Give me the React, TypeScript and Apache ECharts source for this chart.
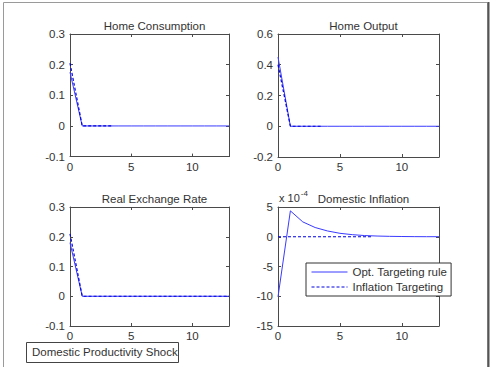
import React, { useEffect, useRef } from "react";
import * as echarts from "echarts";

// Time axes
const tFull = [0, 1, 2, 3, 4, 5, 6, 7, 8, 9, 10, 11, 12, 13];
const tShort = [0, 1, 2, 3, 3.5];
const tInflDashed = [0, 1, 2, 3, 4, 5, 6, 7, 7.6];

// Titles
const titles = ["Home Consumption", "Home Output", "Real Exchange Rate", "Domestic Inflation"];
const legendNames = ["Opt. Targeting rule", "Inflation Targeting"];

// Home Consumption
const consOpt = [0.175, 0, 0, 0, 0, 0, 0, 0, 0, 0, 0, 0, 0, 0];
const consIT = [0.205, 0, 0, 0, 0];
// Home Output
const outOpt = [0.45, 0, 0, 0, 0, 0, 0, 0, 0, 0, 0, 0, 0, 0];
const outIT = [0.4, 0, 0, 0, 0];
// Real Exchange Rate
const rerOpt = [0.18, 0, 0, 0, 0, 0, 0, 0, 0, 0, 0, 0, 0, 0];
const rerIT = [0.21, 0, 0, 0, 0, 0, 0, 0, 0, 0, 0, 0, 0, 0];
// Domestic Inflation (x 10^-4)
const inflOpt = [-10.1, 4.35, 2.5, 1.55, 0.97, 0.58, 0.35, 0.2, 0.12, 0.07, 0.04, 0.02, 0.01, 0.01];
const inflIT = [0, 0, 0, 0, 0, 0, 0, 0, 0];

// Y axis ranges
const yMins = [-0.1, -0.2, -0.1, -15];
const yMaxs = [0.3, 0.6, 0.3, 5];
const yIntervals = [0.1, 0.2, 0.1, 5];
const xMin = 0;
const xMax = 13;
const xInterval = 5;

const zip = (xs: number[], ys: number[]) => ys.map((y, i) => [xs[i], y]);

export default function App() {
  const ref = useRef<HTMLDivElement>(null);
  useEffect(() => {
    if (!ref.current) return;
    const chart = echarts.init(ref.current, undefined, { renderer: "svg" });
    const font = "Liberation Sans, Arial, sans-serif";
    const axisColor = "#4a4a4a";
    const textColor = "#333";
    const grids = [
      { left: 70, top: 34, width: 159, height: 122.6 },
      { left: 278, top: 34, width: 161, height: 123 },
      { left: 70, top: 207, width: 159, height: 119 },
      { left: 278, top: 207, width: 161, height: 119 },
    ];
    const xAxes: any[] = [];
    const yAxes: any[] = [];
    for (let i = 0; i < 4; i++) {
      xAxes.push({
        type: "value", gridIndex: i, min: xMin, max: xMax, interval: xInterval,
        position: "bottom",
        axisLine: { show: true, onZero: false, lineStyle: { color: axisColor } },
        axisTick: { show: true, inside: true, length: 3, lineStyle: { color: axisColor } },
        axisLabel: { show: true, showMaxLabel: false, color: textColor, fontFamily: font, fontSize: 11.5, margin: 4 },
        splitLine: { show: false },
      });
      yAxes.push({
        type: "value", gridIndex: i, min: yMins[i], max: yMaxs[i], interval: yIntervals[i],
        position: "left",
        axisLine: { show: true, onZero: false, lineStyle: { color: axisColor } },
        axisTick: { show: true, inside: true, length: 3, lineStyle: { color: axisColor } },
        axisLabel: { show: true, color: textColor, fontFamily: font, fontSize: 11.5, margin: 5 },
        splitLine: { show: false },
      });
    }
    for (let i = 0; i < 4; i++) {
      xAxes.push({
        type: "value", gridIndex: i, min: xMin, max: xMax, interval: xInterval,
        position: "top",
        axisLine: { show: true, onZero: false, lineStyle: { color: axisColor } },
        axisTick: { show: true, inside: true, length: 3, lineStyle: { color: axisColor } },
        axisLabel: { show: false },
        splitLine: { show: false },
      });
      yAxes.push({
        type: "value", gridIndex: i, min: yMins[i], max: yMaxs[i], interval: yIntervals[i],
        position: "right",
        axisLine: { show: true, onZero: false, lineStyle: { color: axisColor } },
        axisTick: { show: true, inside: true, length: 3, lineStyle: { color: axisColor } },
        axisLabel: { show: false },
        splitLine: { show: false },
      });
    }
    const solidStyle = { color: "#3a3aff", width: 1, type: "solid" as const };
    const dashStyle = { color: "#0000e0", width: 1.2, type: [3, 2] as any };
    const mk = (i: number, name: string, data: number[][], dashed: boolean) => ({
      type: "line", name, xAxisIndex: i, yAxisIndex: i, data,
      showSymbol: false, symbol: "none", silent: true,
      lineStyle: dashed ? dashStyle : solidStyle,
      itemStyle: { color: dashed ? dashStyle.color : solidStyle.color },
      z: dashed ? 3 : 2,
    });
    const series = [
      mk(0, legendNames[0], zip(tFull, consOpt), false),
      mk(0, legendNames[1], zip(tShort, consIT), true),
      mk(1, legendNames[0], zip(tFull, outOpt), false),
      mk(1, legendNames[1], zip(tShort, outIT), true),
      mk(2, legendNames[0], zip(tFull, rerOpt), false),
      mk(2, legendNames[1], zip(tFull, rerIT), true),
      mk(3, legendNames[0], zip(tFull, inflOpt), false),
      mk(3, legendNames[1], zip(tInflDashed, inflIT), true),
    ];
    const titleOpts = titles.map((t, i) => ({
      text: t,
      left: grids[i].left + grids[i].width / 2,
      top: grids[i].top - 19,
      textAlign: "center",
      textStyle: { fontFamily: font, fontSize: 11.5, fontWeight: "normal", color: textColor },
    }));
    chart.setOption({
      animation: false,
      backgroundColor: "#fff",
      title: titleOpts,
      grid: grids.map((g) => ({ ...g, containLabel: false })),
      xAxis: xAxes,
      yAxis: yAxes,
      series,
      legend: {
        data: legendNames,
        orient: "vertical",
        left: 306,
        top: 263,
        selectedMode: false,
        borderColor: "#333",
        borderWidth: 1,
        borderRadius: 0,
        backgroundColor: "#fff",
        padding: [3, 4, 3, 5],
        itemGap: 3,
        itemWidth: 36,
        itemHeight: 12,
        itemStyle: { opacity: 0 },
        lineStyle: { width: 1 },
        textStyle: { fontFamily: font, fontSize: 11.5, color: textColor },
      },
      graphic: [
        {
          type: "rect", silent: true,
          shape: { x: 3.5, y: 2.5, width: 484, height: 400 },
          style: { fill: "none", stroke: "#9a9a9a", lineWidth: 1 },
        },
        {
          type: "line", silent: true,
          shape: { x1: 488.5, y1: 2, x2: 488.5, y2: 367 },
          style: { stroke: "#555", lineWidth: 2 },
        },
        {
          type: "text", left: 279, top: 189,
          style: {
            text: "{a|x 10}{b|-4}",
            rich: {
              a: { fontFamily: font, fontSize: 11, fill: textColor, verticalAlign: "bottom" },
              b: { fontFamily: font, fontSize: 8, fill: textColor, verticalAlign: "top", padding: [0, 0, 6, 1] },
            },
          },
        },
        {
          type: "rect", silent: true,
          shape: { x: 26.5, y: 342.5, width: 152, height: 20 },
          style: { fill: "#fff", stroke: "#444", lineWidth: 1 },
        },
        {
          type: "text", left: 32, top: 346,
          style: { text: "Domestic Productivity Shock", fontFamily: font, fontSize: 11.5, fill: textColor },
        },
      ],
    });
    return () => chart.dispose();
  }, []);
  return (
    <div
      ref={ref}
      style={{ position: "fixed", left: 0, top: 0, width: 492, height: 367, background: "#fff" }}
    />
  );
}
